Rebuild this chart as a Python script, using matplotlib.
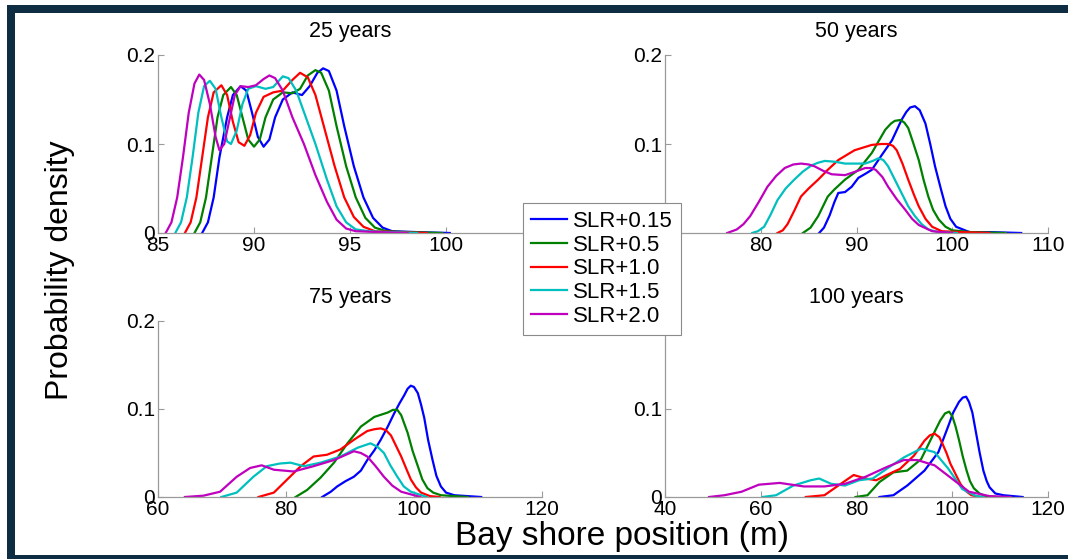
import numpy as np
import matplotlib
matplotlib.use('Agg')
import matplotlib.pyplot as plt
from matplotlib.patches import Rectangle

plt.rcParams['font.family'] = ['Liberation Sans', 'DejaVu Sans']

labels = ['SLR+0.15', 'SLR+0.5', 'SLR+1.0', 'SLR+1.5', 'SLR+2.0']
colors = ['#0000ff', '#008000', '#ff0000', '#00bfbf', '#bf00bf']
titles = ['25 years', '50 years', '75 years', '100 years']

# 25 years
x25_015 = [87.3, 87.6, 87.9, 88.2, 88.6, 88.9, 89.3, 89.6, 89.9, 90.2, 90.5, 90.8, 91.1, 91.5, 92.0, 92.5, 92.9, 93.3, 93.6, 93.9, 94.3, 94.7, 95.2, 95.7, 96.2, 96.7, 97.2, 98.5, 100.2]
y25_015 = [0.0, 0.012, 0.04, 0.085, 0.13, 0.155, 0.165, 0.16, 0.135, 0.108, 0.097, 0.105, 0.13, 0.15, 0.158, 0.155, 0.165, 0.18, 0.185, 0.182, 0.16, 0.12, 0.075, 0.04, 0.017, 0.006, 0.002, 0.001, 0.0]
x25_05 = [86.9, 87.2, 87.5, 87.8, 88.1, 88.4, 88.8, 89.1, 89.4, 89.7, 90.0, 90.3, 90.6, 91.0, 91.5, 92.0, 92.4, 92.8, 93.2, 93.5, 93.9, 94.3, 94.8, 95.3, 95.8, 96.3, 96.9, 98.0, 99.8]
y25_05 = [0.0, 0.012, 0.04, 0.085, 0.13, 0.155, 0.164, 0.155, 0.13, 0.105, 0.097, 0.105, 0.13, 0.15, 0.158, 0.157, 0.162, 0.177, 0.183, 0.18, 0.16, 0.12, 0.075, 0.04, 0.017, 0.006, 0.002, 0.001, 0.0]
x25_10 = [86.4, 86.7, 87.0, 87.3, 87.6, 87.9, 88.3, 88.6, 88.9, 89.2, 89.5, 89.8, 90.1, 90.5, 91.0, 91.5, 92.0, 92.4, 92.8, 93.2, 93.7, 94.2, 94.7, 95.2, 95.7, 96.3, 97.5, 99.0]
y25_10 = [0.0, 0.012, 0.04, 0.085, 0.13, 0.158, 0.166, 0.155, 0.125, 0.102, 0.098, 0.11, 0.135, 0.153, 0.158, 0.16, 0.172, 0.18, 0.175, 0.155, 0.115, 0.075, 0.04, 0.018, 0.007, 0.002, 0.001, 0.0]
x25_15 = [85.9, 86.2, 86.5, 86.8, 87.1, 87.4, 87.7, 88.0, 88.3, 88.6, 88.8, 89.1, 89.4, 89.7, 90.1, 90.6, 91.0, 91.5, 91.8, 92.2, 92.7, 93.2, 93.8, 94.3, 94.8, 95.3, 96.0, 97.0, 98.5]
y25_15 = [0.0, 0.012, 0.04, 0.085, 0.135, 0.165, 0.171, 0.162, 0.13, 0.103, 0.1, 0.115, 0.145, 0.162, 0.165, 0.162, 0.164, 0.176, 0.174, 0.16, 0.13, 0.1, 0.06, 0.03, 0.012, 0.004, 0.002, 0.001, 0.0]
x25_20 = [85.4, 85.7, 86.0, 86.3, 86.6, 86.9, 87.15, 87.4, 87.7, 88.0, 88.2, 88.45, 88.7, 89.0, 89.3, 89.7, 90.1, 90.5, 90.8, 91.1, 91.5, 92.0, 92.6, 93.2, 93.8, 94.3, 94.8, 95.3, 96.5, 98.0]
y25_20 = [0.0, 0.012, 0.04, 0.085, 0.135, 0.168, 0.178, 0.172, 0.145, 0.108, 0.093, 0.1, 0.125, 0.155, 0.165, 0.164, 0.166, 0.173, 0.177, 0.174, 0.16, 0.13, 0.1, 0.065, 0.035, 0.015, 0.005, 0.002, 0.001, 0.0]

# 50 years
x50_015 = [86.1, 86.6, 87.2, 87.7, 88.1, 88.8, 89.5, 90.2, 91.0, 91.6, 92.6, 93.7, 94.7, 95.2, 95.6, 96.1, 96.6, 97.2, 97.7, 98.2, 98.8, 99.3, 99.8, 100.4, 101.8, 104.0, 107.2]
y50_015 = [0.0, 0.006, 0.02, 0.035, 0.045, 0.046, 0.052, 0.062, 0.067, 0.071, 0.087, 0.104, 0.127, 0.136, 0.141, 0.1425, 0.138, 0.123, 0.1, 0.075, 0.05, 0.030, 0.016, 0.007, 0.001, 0.001, 0.0]
x50_05 = [84.4, 85.2, 86.0, 86.5, 87.0, 87.7, 88.8, 90.2, 91.6, 93.0, 93.6, 94.0, 94.6, 95.0, 95.4, 95.9, 96.5, 97.0, 97.5, 98.0, 98.6, 99.3, 100.0, 102.0, 105.6]
y50_05 = [0.0, 0.006, 0.019, 0.03, 0.041, 0.049, 0.060, 0.071, 0.090, 0.116, 0.123, 0.126, 0.127, 0.124, 0.118, 0.102, 0.082, 0.06, 0.041, 0.026, 0.015, 0.007, 0.003, 0.001, 0.0]
x50_10 = [81.75, 82.3, 82.8, 83.5, 84.2, 85.0, 86.0, 87.0, 88.1, 89.8, 91.6, 92.6, 93.3, 93.8, 94.2, 94.8, 95.4, 96.0, 96.5, 97.2, 97.9, 98.9, 101.0, 103.9]
y50_10 = [0.0, 0.003, 0.01, 0.025, 0.041, 0.05, 0.060, 0.071, 0.082, 0.093, 0.099, 0.100, 0.100, 0.098, 0.093, 0.078, 0.060, 0.043, 0.030, 0.016, 0.007, 0.002, 0.001, 0.0]
x50_15 = [79.1, 79.7, 80.35, 81.0, 81.75, 82.6, 83.5, 84.4, 85.3, 86.0, 86.7, 87.8, 88.8, 90.9, 91.7, 92.3, 92.8, 93.3, 94.0, 94.7, 95.4, 96.1, 96.8, 97.5, 98.5, 100.5]
y50_15 = [0.0, 0.002, 0.007, 0.02, 0.037, 0.05, 0.060, 0.069, 0.076, 0.079, 0.081, 0.08, 0.078, 0.078, 0.081, 0.084, 0.082, 0.075, 0.06, 0.045, 0.03, 0.019, 0.01, 0.004, 0.001, 0.0]
x50_20 = [76.5, 77.5, 78.2, 78.9, 79.8, 80.7, 81.6, 82.5, 83.4, 84.2, 85.0, 85.6, 86.5, 87.4, 88.8, 89.9, 90.9, 91.5, 92.0, 92.7, 93.3, 94.2, 95.1, 95.8, 96.5, 97.9, 100.0]
y50_20 = [0.0, 0.004, 0.01, 0.019, 0.035, 0.052, 0.064, 0.073, 0.077, 0.078, 0.077, 0.075, 0.07, 0.066, 0.065, 0.069, 0.073, 0.073, 0.071, 0.063, 0.052, 0.038, 0.026, 0.016, 0.009, 0.002, 0.0]

# 75 years
x75_015 = [85.65, 87.0, 88.0, 89.3, 90.6, 91.7, 92.7, 93.8, 94.8, 95.9, 96.9, 97.7, 98.5, 99.0, 99.5, 100.0, 100.6, 101.1, 101.6, 102.2, 102.9, 103.5, 104.2, 105.0, 106.3, 110.5]
y75_015 = [0.0, 0.006, 0.012, 0.018, 0.023, 0.03, 0.042, 0.053, 0.065, 0.08, 0.095, 0.106, 0.116, 0.123, 0.1265, 0.125, 0.118, 0.105, 0.09, 0.065, 0.042, 0.024, 0.012, 0.005, 0.002, 0.0]
x75_05 = [81.5, 83.3, 85.4, 87.5, 89.6, 91.7, 93.8, 95.9, 96.7, 97.4, 98.0, 98.5, 99.0, 99.8, 100.6, 101.3, 102.1, 103.0, 104.2, 108.4]
y75_05 = [0.0, 0.008, 0.022, 0.039, 0.061, 0.080, 0.091, 0.096, 0.099, 0.099, 0.093, 0.083, 0.073, 0.052, 0.035, 0.02, 0.010, 0.005, 0.002, 0.0]
x75_10 = [75.7, 78.1, 80.2, 82.3, 84.3, 86.4, 88.5, 90.6, 92.7, 93.8, 94.8, 95.6, 96.4, 97.2, 98.0, 98.8, 99.5, 100.3, 101.1, 102.5, 104.0]
y75_10 = [0.0, 0.005, 0.020, 0.035, 0.046, 0.048, 0.054, 0.065, 0.075, 0.077, 0.078, 0.076, 0.070, 0.058, 0.046, 0.032, 0.020, 0.011, 0.005, 0.001, 0.0]
x75_15 = [69.9, 72.3, 74.9, 77.0, 79.0, 80.7, 82.8, 85.4, 88.5, 91.2, 93.2, 94.3, 95.3, 96.3, 97.4, 98.4, 99.5, 102.0]
y75_15 = [0.0, 0.005, 0.023, 0.035, 0.038, 0.039, 0.035, 0.039, 0.046, 0.056, 0.061, 0.057, 0.050, 0.036, 0.023, 0.012, 0.006, 0.0]
x75_20 = [64.2, 67.1, 69.7, 72.3, 74.4, 76.2, 78.1, 81.2, 84.3, 87.5, 90.6, 91.7, 92.7, 94.0, 95.3, 96.6, 98.0, 101.0]
y75_20 = [0.0, 0.0015, 0.006, 0.023, 0.033, 0.036, 0.031, 0.029, 0.035, 0.042, 0.052, 0.05, 0.046, 0.035, 0.023, 0.013, 0.006, 0.0]

# 100 years
x100_015 = [84.8, 87.7, 90.6, 94.2, 97.1, 99.2, 100.2, 101.4, 102.2, 102.9, 103.5, 104.2, 104.9, 105.7, 106.5, 107.2, 107.8, 109.0, 110.7, 114.7]
y100_015 = [0.0, 0.002, 0.013, 0.030, 0.051, 0.081, 0.096, 0.108, 0.113, 0.114, 0.108, 0.096, 0.075, 0.051, 0.03, 0.018, 0.011, 0.004, 0.002, 0.0]
x100_05 = [79.8, 82.3, 84.8, 87.7, 90.6, 93.5, 96.3, 97.5, 98.5, 99.35, 100.0, 100.7, 101.4, 102.2, 103.0, 103.7, 104.5, 105.7, 107.0, 109.3]
y100_05 = [0.0, 0.002, 0.017, 0.028, 0.030, 0.043, 0.074, 0.087, 0.095, 0.097, 0.092, 0.08, 0.065, 0.046, 0.03, 0.018, 0.01, 0.004, 0.001, 0.0]
x100_10 = [69.4, 73.3, 76.2, 79.4, 81.9, 84.1, 86.3, 89.1, 92.0, 94.2, 95.3, 96.3, 97.3, 98.0, 98.8, 99.6, 100.6, 101.7, 102.8, 104.0, 106.0]
y100_10 = [0.0, 0.002, 0.013, 0.025, 0.021, 0.019, 0.025, 0.032, 0.047, 0.064, 0.07, 0.072, 0.068, 0.06, 0.05, 0.038, 0.027, 0.015, 0.007, 0.002, 0.0]
x100_15 = [60.4, 63.2, 66.8, 70.4, 72.2, 74.7, 77.6, 80.5, 83.4, 86.3, 89.9, 93.5, 96.3, 99.2, 102.1, 105.0, 106.5]
y100_15 = [0.0, 0.002, 0.013, 0.019, 0.021, 0.015, 0.013, 0.019, 0.021, 0.032, 0.045, 0.055, 0.051, 0.032, 0.009, 0.001, 0.0]
x100_20 = [49.2, 52.4, 56.0, 59.6, 63.96, 69.0, 73.3, 77.6, 81.9, 86.3, 89.9, 92.7, 96.3, 99.9, 103.5, 107.8, 112.2]
y100_20 = [0.0, 0.002, 0.006, 0.014, 0.016, 0.012, 0.012, 0.015, 0.023, 0.034, 0.042, 0.042, 0.036, 0.021, 0.006, 0.001, 0.0]

panels = [
    [(x25_015, y25_015), (x25_05, y25_05), (x25_10, y25_10), (x25_15, y25_15), (x25_20, y25_20)],
    [(x50_015, y50_015), (x50_05, y50_05), (x50_10, y50_10), (x50_15, y50_15), (x50_20, y50_20)],
    [(x75_015, y75_015), (x75_05, y75_05), (x75_10, y75_10), (x75_15, y75_15), (x75_20, y75_20)],
    [(x100_015, y100_015), (x100_05, y100_05), (x100_10, y100_10), (x100_15, y100_15), (x100_20, y100_20)],
]
xlims = [(85, 105), (70, 110), (60, 120), (40, 120)]
xticks = [[85, 90, 95, 100, 105], [70, 80, 90, 100, 110], [60, 80, 100, 120], [40, 60, 80, 100, 120]]

W, H = 1068, 559
fig = plt.figure(figsize=(W / 100, H / 100), dpi=100)
fig.patch.set_facecolor('white')

# axes boxes in pixels: left, top, right, bottom
boxes = [(158, 55, 542, 233), (665, 55, 1048, 233), (158, 321, 542, 497), (665, 321, 1048, 497)]
axcol = '#9a9a9a'
lines = []
for i, (l, t, r, b) in enumerate(boxes):
    ax = fig.add_axes([l / W, 1 - b / H, (r - l) / W, (b - t) / H])
    for k, (xs, ys) in enumerate(panels[i]):
        ln, = ax.plot(xs, ys, color=colors[k], lw=1.6, label=labels[k], solid_joinstyle='round')
        if i == 0:
            lines.append(ln)
    ax.set_xlim(*xlims[i])
    ax.set_ylim(0, 0.2)
    ax.set_xticks(xticks[i])
    ax.set_yticks([0, 0.1, 0.2])
    ax.set_yticklabels(['0', '0.1', '0.2'])
    for s in ['top', 'right']:
        ax.spines[s].set_visible(False)
    for s in ['left', 'bottom']:
        ax.spines[s].set_color(axcol)
        ax.spines[s].set_linewidth(0.9)
    ax.tick_params(direction='in', length=4, width=0.8, color=axcol, labelsize=15, pad=2)
    ax.set_title(titles[i], fontsize=15.5, pad=13)
    ax.patch.set_alpha(0)

fig.text(60 / W, 1 - 270 / H, 'Probability density', rotation=90, ha='center', va='center', fontsize=23)
fig.text(622 / W, 1 - 537 / H, 'Bay shore position (m)', ha='center', va='center', fontsize=24)

leg = fig.legend(lines, labels, loc='center', bbox_to_anchor=(602 / W, 1 - 269 / H),
                 fontsize=16, fancybox=False, framealpha=1, edgecolor='#8a8a8a',
                 handlelength=1.6, handletextpad=0.3, labelspacing=0.12, borderpad=0.35,
                 borderaxespad=0)
leg.get_frame().set_linewidth(0.8)

# dark frame
navy = '#0f2d42'
fig.add_artist(Rectangle((7 / W, 1 - 13 / H), 1, 8 / H, transform=fig.transFigure, facecolor=navy, lw=0, zorder=10))
fig.add_artist(Rectangle((7 / W, 0), 8 / W, 1 - 5 / H, transform=fig.transFigure, facecolor=navy, lw=0, zorder=10))
fig.add_artist(Rectangle((7 / W, 0), 1, 4 / H, transform=fig.transFigure, facecolor=navy, lw=0, zorder=10))

fig.savefig('out.png', dpi=100)
